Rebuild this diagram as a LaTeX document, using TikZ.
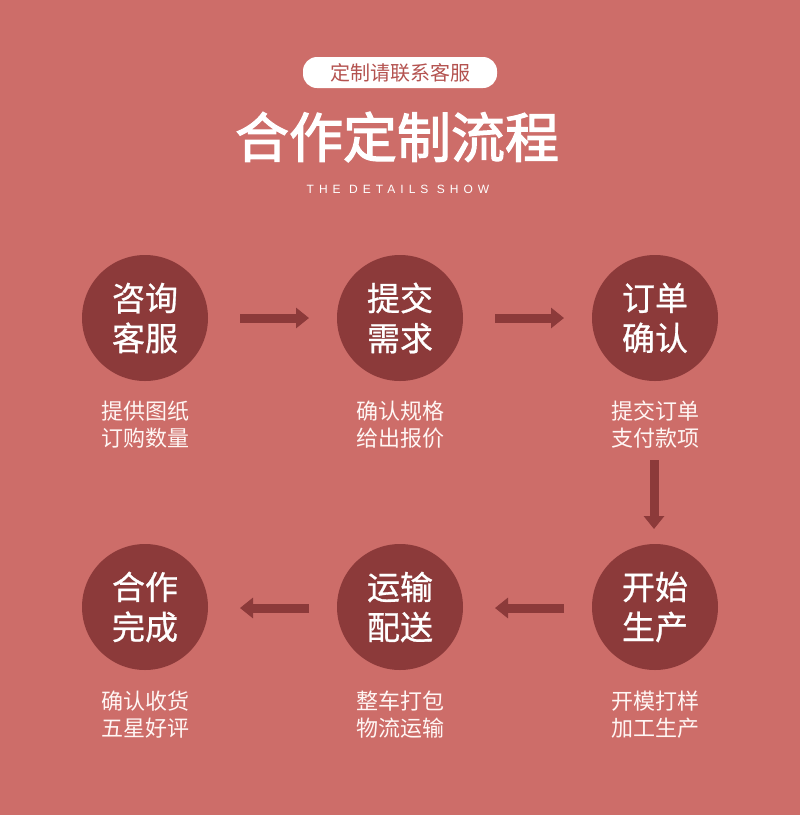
\documentclass[tikz,border=0pt]{standalone}
\usepackage{fontspec}
\newfontfamily\cjk{Noto Sans CJK SC}
\newfontfamily\cjktitle[FakeBold=2.2]{Noto Sans CJK SC}
\newfontfamily\cjkmed[FakeBold=0.8]{Noto Sans CJK SC}
\newfontfamily\latsans[LetterSpace=42]{Liberation Sans}
\usetikzlibrary{arrows.meta}
\definecolor{bg}{RGB}{205,109,105}
\definecolor{dark}{RGB}{140,58,58}
\definecolor{pilltext}{RGB}{180,82,79}
\definecolor{captext}{RGB}{255,246,244}
\tikzset{
  stepcircle/.style={circle,fill=dark,minimum size=126pt,inner sep=0pt,text=white,font=\cjkmed\fontsize{33}{40}\selectfont,align=center},
  caption/.style={text=captext,font=\cjk\fontsize{22}{27}\selectfont,align=center,inner sep=0pt},
  flowarrow/.style={draw=dark,line width=9pt,-{Triangle[length=13pt,width=20pt]}},
}
\begin{document}
\begin{tikzpicture}[x=1pt,y=-1pt]
\fill[bg] (0,0) rectangle (800,815);
\useasboundingbox (0,0) rectangle (800,815);
% pill
\node[fill=white,rounded corners=14pt,minimum width=194pt,minimum height=31pt,inner sep=0pt,text=pilltext,font=\cjk\fontsize{20}{24}\selectfont] (pill) at (400,72.5) {定制请联系客服};
\node[text=white,font=\cjktitle\fontsize{54}{60}\selectfont,inner sep=0pt] (title) at (397,137) {合作定制流程};
\node[text=white,font=\latsans\fontsize{12}{14}\selectfont,inner sep=0pt] (sub) at (398,189) {THE DETAILS SHOW};
% circles
\node[stepcircle] (c1) at (145,318) {咨询\\客服};
\node[stepcircle] (c2) at (400,318) {提交\\需求};
\node[stepcircle] (c3) at (655,318) {订单\\确认};
\node[stepcircle] (c4) at (655,607) {开始\\生产};
\node[stepcircle] (c5) at (400,607) {运输\\配送};
\node[stepcircle] (c6) at (145,607) {合作\\完成};
% captions
\node[caption] (t1) at (145,425) {提供图纸\\订购数量};
\node[caption] (t2) at (400,425) {确认规格\\给出报价};
\node[caption] (t3) at (655,425) {提交订单\\支付款项};
\node[caption] (t4) at (655,715) {开模打样\\加工生产};
\node[caption] (t5) at (400,715) {整车打包\\物流运输};
\node[caption] (t6) at (145,715) {确认收货\\五星好评};
% arrows
\coordinate (a1s) at (240,318); \coordinate (a1e) at (309,318);
\coordinate (a2s) at (495,318); \coordinate (a2e) at (564,318);
\coordinate (a3s) at (654,460); \coordinate (a3e) at (654,529);
\coordinate (a4s) at (564,608); \coordinate (a4e) at (495,608);
\coordinate (a5s) at (309,608); \coordinate (a5e) at (240,608);
\draw[flowarrow] (a1s) -- (a1e);
\draw[flowarrow] (a2s) -- (a2e);
\draw[flowarrow] (a3s) -- (a3e);
\draw[flowarrow] (a4s) -- (a4e);
\draw[flowarrow] (a5s) -- (a5e);
\end{tikzpicture}
\end{document}
